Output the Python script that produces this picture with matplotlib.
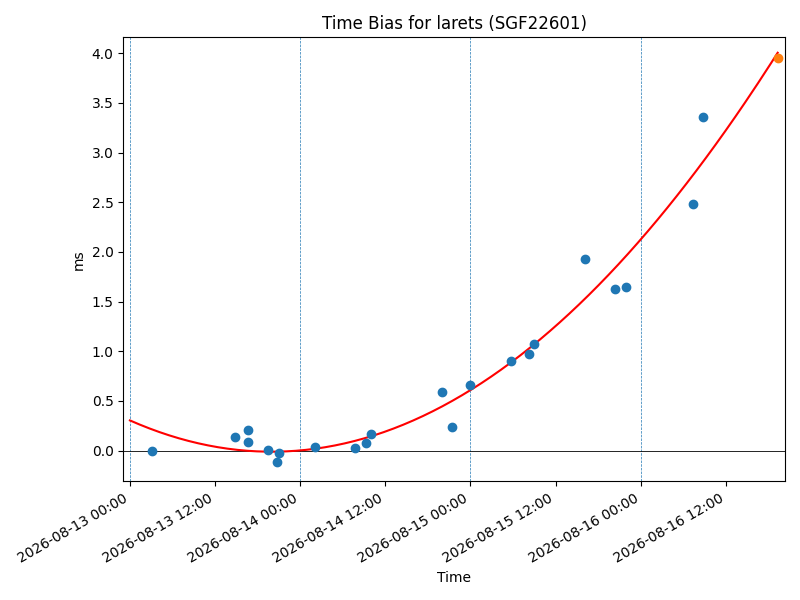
import numpy as np
import pandas as pd
import matplotlib
matplotlib.use("Agg")
import matplotlib.pyplot as plt
import matplotlib.dates as mdates
from matplotlib.ticker import MultipleLocator

# measured time bias points
times = pd.to_datetime([
    "2026-08-13 03:06", "2026-08-13 14:47", "2026-08-13 16:35", "2026-08-13 16:35",
    "2026-08-13 19:29", "2026-08-13 20:45", "2026-08-13 21:02", "2026-08-14 02:07",
    "2026-08-14 07:43", "2026-08-14 09:16", "2026-08-14 10:01", "2026-08-14 20:03",
    "2026-08-14 21:25", "2026-08-14 23:52", "2026-08-15 05:47", "2026-08-15 08:17",
    "2026-08-15 08:54", "2026-08-15 16:06", "2026-08-15 20:20", "2026-08-15 21:59",
    "2026-08-16 07:18", "2026-08-16 08:50",
])
bias_ms = [0.00, 0.14, 0.21, 0.09,
           0.01, -0.11, -0.02, 0.04,
           0.03, 0.08, 0.17, 0.59,
           0.24, 0.66, 0.90, 0.97,
           1.07, 1.93, 1.63, 1.65,
           2.48, 3.36]

# prediction point
pred_time = pd.Timestamp("2026-08-16 19:18")
pred_ms = 3.95

midnights = pd.to_datetime(["2026-08-13", "2026-08-14", "2026-08-15", "2026-08-16"])
fit_start = pd.Timestamp("2026-08-13 00:00")

# quadratic fit in days
t0 = fit_start
days = (times - t0) / pd.Timedelta(days=1)
coef = np.polyfit(days, bias_ms, 2)
fit_days = np.linspace(0, (pred_time - t0) / pd.Timedelta(days=1), 200)
fit_times = t0 + pd.to_timedelta(fit_days, unit="D")
fit_vals = np.polyval(coef, fit_days)

fig, ax = plt.subplots(figsize=(8, 6), dpi=100)
for m in midnights:
    ax.axvline(m, color="tab:blue", linestyle="--", linewidth=0.5)
ax.axhline(0, color="black", linewidth=0.6)
ax.plot(fit_times, fit_vals, color="red", zorder=2)
ax.scatter(times, bias_ms, color="tab:blue", zorder=3)
ax.scatter([pred_time], [pred_ms], color="tab:orange", zorder=3)

ax.set_xlim(pd.Timestamp("2026-08-12 23:04"), pd.Timestamp("2026-08-16 20:20"))
ax.set_ylim(-0.31, 4.16)
ax.yaxis.set_major_locator(MultipleLocator(0.5))
ax.xaxis.set_major_locator(mdates.HourLocator(byhour=[0, 12]))
ax.xaxis.set_major_formatter(mdates.DateFormatter("%Y-%m-%d %H:%M"))
ax.set_title("Time Bias for larets (SGF22601)")
ax.set_xlabel("Time")
ax.set_ylabel("ms")
fig.autofmt_xdate()
plt.tight_layout()
plt.savefig("out.png")
